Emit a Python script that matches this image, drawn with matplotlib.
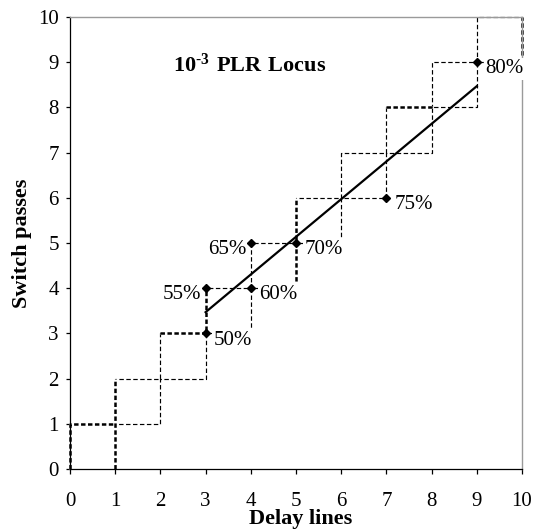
import matplotlib
matplotlib.use("Agg")
import matplotlib.pyplot as plt

# ---- data ----
upper_x = [0, 0, 1, 1, 2, 2, 3, 3, 4, 4, 5, 5, 6, 6, 7, 7, 8, 8, 9, 9, 10]
upper_y = [0, 1, 1, 2, 2, 3, 3, 4, 4, 5, 5, 6, 6, 7, 7, 8, 8, 9, 9, 10, 10]
lower_x = [1, 1, 2, 2, 3, 3, 4, 4, 5, 5, 6, 6, 7, 7, 8, 8, 9, 9, 10, 10]
lower_y = [0, 1, 1, 2, 2, 3, 3, 4, 4, 5, 5, 6, 6, 7, 7, 8, 8, 9, 9, 10]

bold_x = [[0, 0, 1], [1, 1], [2, 3, 3], [5, 5], [7, 8], [10, 10]]
bold_y = [[0, 1, 1], [0, 2], [3, 3, 4], [4, 6], [8, 8], [9, 10]]

pts_x = [3, 3, 4, 4, 5, 7, 9]
pts_y = [3, 4, 4, 5, 5, 6, 9]
pts_lbl = ["50%", "55%", "60%", "65%", "70%", "75%", "80%"]
lbl_left = ["55%", "65%"]

trend_x = [3, 9]
trend_y = [3.47, 8.47]

ticks = [0, 1, 2, 3, 4, 5, 6, 7, 8, 9, 10]

# ---- style ----
plt.rcParams["font.family"] = ["Liberation Serif", "DejaVu Serif"]
plt.rcParams["mathtext.fontset"] = "custom"
plt.rcParams["mathtext.rm"] = "Liberation Serif"
plt.rcParams["mathtext.bf"] = "Liberation Serif:bold"
plt.rcParams["lines.scale_dashes"] = False

fig = plt.figure(figsize=(5.42, 5.29), dpi=100)
ax = fig.add_axes([70 / 542, 1 - 469 / 529, 452 / 542, 452 / 529])
ax.set_xlim(0, 10)
ax.set_ylim(0, 10)

dash = (0, (3.2, 1.8))
ax.plot(upper_x, upper_y, color="black", lw=0.85, linestyle=dash, clip_on=False, zorder=2)
ax.plot(lower_x, lower_y, color="black", lw=0.85, linestyle=dash, clip_on=False, zorder=2)
for bx, by in zip(bold_x, bold_y):
    ax.plot(bx, by, color="white", lw=2.2, solid_capstyle="butt", clip_on=False, zorder=2.1)
    ax.plot(bx, by, color="black", lw=1.8, linestyle=(0, (3.2, 1.8)), clip_on=False, zorder=2.2)

ax.plot(trend_x, trend_y, color="black", lw=1.6, zorder=4)
ax.plot(pts_x, pts_y, linestyle="none", marker="D", markersize=4.5,
        color="black", zorder=5, clip_on=False)

for x, y, s in zip(pts_x, pts_y, pts_lbl):
    if s in lbl_left:
        off, ha = (-3, -3), "right"
    else:
        off, ha = (6, -3), "left"
    ax.annotate(s, (x, y), xytext=off, textcoords="offset points", ha=ha,
                va="center_baseline", fontsize=15, zorder=3, annotation_clip=False,
                bbox=dict(facecolor="white", edgecolor="none", pad=1.0))

ax.text(0.398, 0.894, "$\\mathbf{10^{\u2010 3}\\ PLR\\ Locus}$", transform=ax.transAxes,
        ha="center", va="center", fontsize=16)

# axes appearance
for side in ("left", "bottom"):
    ax.spines[side].set_color("black")
    ax.spines[side].set_linewidth(0.9)
for side in ("top", "right"):
    ax.spines[side].set_color("#9a9a9a")
    ax.spines[side].set_linewidth(1.0)

ax.set_xticks(ticks)
ax.set_yticks(ticks)
ax.set_xticklabels([str(t) for t in ticks])
ax.set_yticklabels([str(t) for t in ticks])
ax.tick_params(axis="x", direction="out", length=3.3, width=0.9, pad=13, labelsize=15)
ax.tick_params(axis="y", direction="out", length=3.0, width=0.9, pad=5, labelsize=15)

ax.set_xlabel("Delay lines", fontsize=16, fontweight="bold")
ax.xaxis.set_label_coords(0.51, -0.11)
ax.xaxis.label.set_va("center")
ax.set_ylabel("Switch passes", fontsize=16, fontweight="bold")
ax.yaxis.set_label_coords(-0.106, 0.5)
ax.yaxis.label.set_va("center")

fig.savefig("out.png", dpi=100)
